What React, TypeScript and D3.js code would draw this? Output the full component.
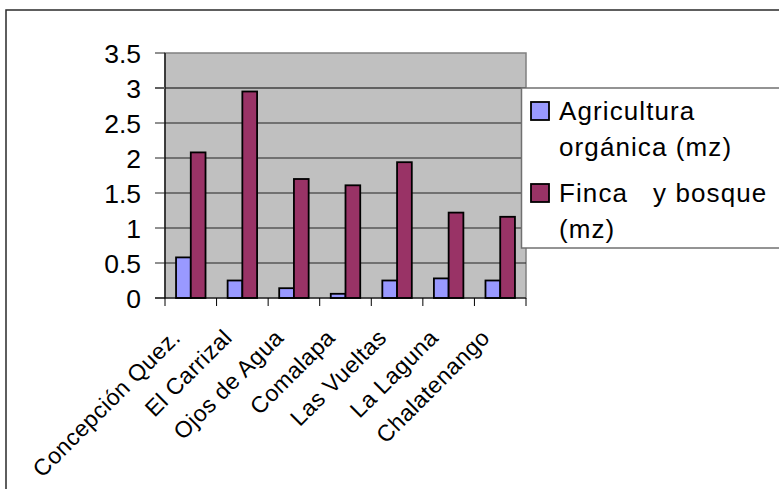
import { useEffect, useRef } from 'react';
import * as d3 from 'd3';

// municipalities and areas (manzanas)
const categories = ['Concepción Quez.', 'El Carrizal', 'Ojos de Agua', 'Comalapa', 'Las Vueltas', 'La Laguna', 'Chalatenango'];
const organica = [0.58, 0.25, 0.14, 0.06, 0.25, 0.28, 0.25];
const finca = [2.08, 2.95, 1.70, 1.61, 1.94, 1.22, 1.16];
const yTicks = [0, 0.5, 1, 1.5, 2, 2.5, 3, 3.5];
const seriesNames = ['Agricultura orgánica (mz)', 'Finca   y bosque (mz)'];
const seriesColors = ['#9999FF', '#993366'];

const W = 779;
const H = 489;
const FONT = '"Liberation Sans", Arial, sans-serif';

export default function App() {
  const ref = useRef<SVGSVGElement>(null);

  useEffect(() => {
    document.body.style.margin = '0';
    if (!ref.current) return;
    const svg = d3.select(ref.current);
    svg.selectAll('*').remove();

    const plot = { left: 165, top: 53, right: 526, bottom: 298 };

    const x = d3.scaleBand<string>()
      .domain(categories)
      .range([plot.left, plot.right]);
    const bw = x.bandwidth() / 3.5; // excel gap width 150%
    const y = d3.scaleLinear().domain([0, 3.5]).range([plot.bottom, plot.top]);

    // outer chart border
    svg.append('rect')
      .attr('x', 6).attr('y', 10)
      .attr('width', 820).attr('height', 520)
      .attr('fill', 'white')
      .attr('stroke', '#2a2a2a')
      .attr('stroke-width', 1.5);

    // plot area
    svg.append('rect')
      .attr('x', plot.left).attr('y', plot.top)
      .attr('width', plot.right - plot.left).attr('height', plot.bottom - plot.top)
      .attr('fill', '#C0C0C0')
      .attr('stroke', '#808080')
      .attr('stroke-width', 1.5);

    // gridlines
    svg.append('g')
      .selectAll('line')
      .data(yTicks.filter(t => t > 0 && t < 3.5))
      .join('line')
      .attr('x1', plot.left).attr('x2', plot.right)
      .attr('y1', d => y(d)).attr('y2', d => y(d))
      .attr('stroke', d => (d === 3 ? '#606060' : '#222'))
      .attr('stroke-width', d => (d === 3 ? 2 : 1));

    // bars
    const groups = [organica, finca];
    groups.forEach((vals, si) => {
      svg.append('g')
        .selectAll('rect')
        .data(vals)
        .join('rect')
        .attr('x', (_, i) => (x(categories[i]) || 0) + 0.75 * bw + si * bw)
        .attr('y', d => y(d))
        .attr('width', bw)
        .attr('height', d => plot.bottom - y(d))
        .attr('fill', seriesColors[si])
        .attr('stroke', '#000')
        .attr('stroke-width', 1.8);
    });

    // y axis
    svg.append('line')
      .attr('x1', plot.left).attr('x2', plot.left)
      .attr('y1', plot.top).attr('y2', plot.bottom)
      .attr('stroke', '#000').attr('stroke-width', 1.2);
    svg.append('g')
      .selectAll('line')
      .data(yTicks)
      .join('line')
      .attr('x1', plot.left - 10).attr('x2', plot.left)
      .attr('y1', d => y(d)).attr('y2', d => y(d))
      .attr('stroke', d => (d === 3 ? '#606060' : '#222'))
      .attr('stroke-width', d => (d === 3 ? 2 : 1));
    svg.append('g')
      .selectAll('text')
      .data(yTicks)
      .join('text')
      .attr('x', 141)
      .attr('y', d => y(d))
      .attr('dy', '0.36em')
      .attr('text-anchor', 'end')
      .attr('font-family', FONT)
      .attr('font-size', 26.5)
      .text(d => String(d));

    // x axis
    svg.append('line')
      .attr('x1', plot.left - 10).attr('x2', plot.right)
      .attr('y1', plot.bottom).attr('y2', plot.bottom)
      .attr('stroke', '#000').attr('stroke-width', 1.2);
    const edges = [...categories.map(c => x(c) || 0), plot.right];
    svg.append('g')
      .selectAll('line')
      .data(edges)
      .join('line')
      .attr('x1', d => d).attr('x2', d => d)
      .attr('y1', plot.bottom).attr('y2', plot.bottom + 8)
      .attr('stroke', '#000').attr('stroke-width', 1);
    svg.append('g')
      .selectAll('text')
      .data(categories)
      .join('text')
      .attr('transform', d => `translate(${(x(d) || 0) + x.bandwidth() / 2 - 9},${plot.bottom + 41}) rotate(-45)`)
      .attr('text-anchor', 'end')
      .attr('font-family', FONT)
      .attr('font-size', 23)
      .attr('letter-spacing', 0.5)
      .text(d => d);

    // legend
    const lg = svg.append('g');
    lg.append('rect')
      .attr('x', 521.5).attr('y', 88)
      .attr('width', 300).attr('height', 160)
      .attr('fill', 'white')
      .attr('stroke', '#707070')
      .attr('stroke-width', 1.5);
    const lines = [
      ['Agricultura', 'orgánica (mz)'],
      ['Finca   y bosque', '(mz)'],
    ];
    const baselines = [120, 202];
    lines.forEach((ls, i) => {
      lg.append('rect')
        .attr('x', 531).attr('y', baselines[i] - 18)
        .attr('width', 18).attr('height', 18)
        .attr('fill', seriesColors[i])
        .attr('stroke', '#000').attr('stroke-width', 1.8);
      ls.forEach((t, j) => {
        lg.append('text')
          .attr('x', 559)
          .attr('y', baselines[i] + j * 36)
          .attr('font-family', FONT)
          .attr('font-size', 26)
          .attr('letter-spacing', 1.1)
          .style('white-space', 'pre')
          .text(t);
      });
    });
  }, []);

  return (
    <svg ref={ref} width={W} height={H} style={{ display: 'block', overflow: 'hidden' }}
      aria-label={seriesNames.join(', ')} />
  );
}
